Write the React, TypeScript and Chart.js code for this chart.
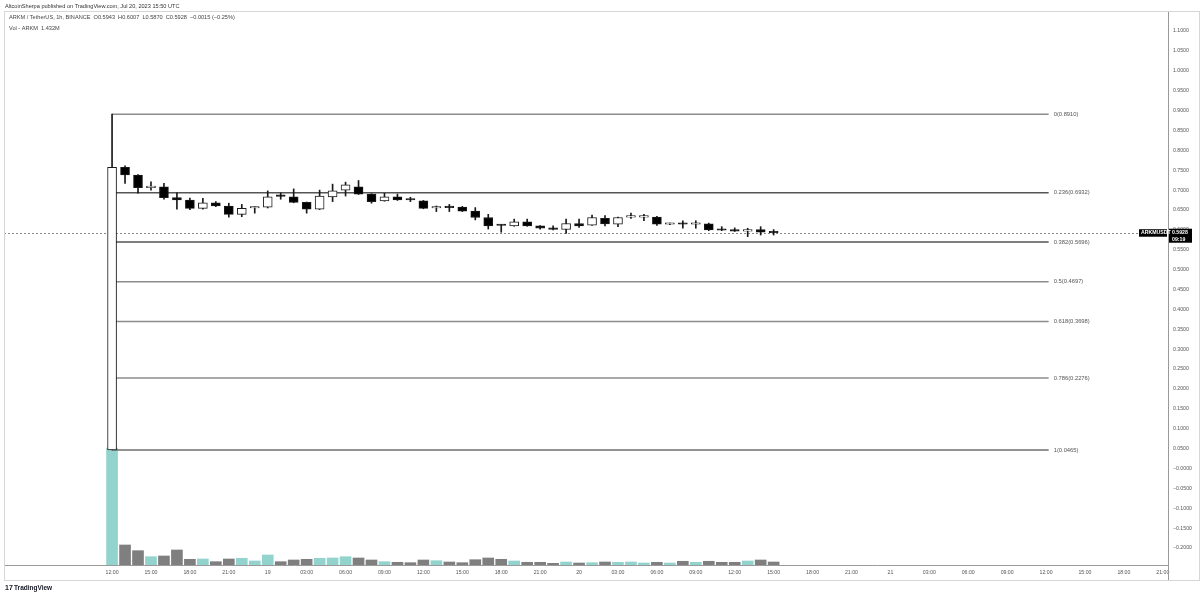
import React, { useEffect, useRef } from 'react';
import { Chart, registerables } from 'chart.js';

Chart.register(...registerables);

// Hourly candles, ARKM/USDT from Jul 18 12:00 (hour 0) to Jul 20 15:00
const opens = [0.0465, 0.757, 0.738, 0.706, 0.708, 0.681, 0.675, 0.654, 0.668, 0.660, 0.639, 0.655, 0.657, 0.685, 0.683, 0.669, 0.652, 0.683, 0.700, 0.708, 0.690, 0.673, 0.683, 0.676, 0.673, 0.655, 0.657, 0.657, 0.647, 0.631, 0.612, 0.610, 0.620, 0.610, 0.605, 0.601, 0.616, 0.612, 0.629, 0.614, 0.632, 0.632, 0.632, 0.614, 0.615, 0.614, 0.615, 0.600, 0.599, 0.597, 0.601, 0.5943];
const highs = [0.891, 0.761, 0.739, 0.721, 0.717, 0.693, 0.680, 0.679, 0.671, 0.667, 0.664, 0.658, 0.698, 0.693, 0.703, 0.670, 0.700, 0.715, 0.720, 0.724, 0.691, 0.692, 0.690, 0.682, 0.674, 0.660, 0.664, 0.659, 0.656, 0.639, 0.613, 0.627, 0.627, 0.611, 0.610, 0.627, 0.627, 0.637, 0.636, 0.632, 0.642, 0.639, 0.634, 0.617, 0.623, 0.623, 0.617, 0.608, 0.605, 0.604, 0.608, 0.6007];
const lows = [0.0465, 0.717, 0.692, 0.700, 0.677, 0.652, 0.651, 0.652, 0.658, 0.632, 0.633, 0.642, 0.655, 0.677, 0.668, 0.642, 0.651, 0.671, 0.685, 0.689, 0.667, 0.672, 0.674, 0.671, 0.653, 0.646, 0.646, 0.646, 0.625, 0.602, 0.594, 0.609, 0.609, 0.602, 0.600, 0.591, 0.606, 0.611, 0.610, 0.608, 0.629, 0.623, 0.611, 0.613, 0.604, 0.604, 0.598, 0.598, 0.596, 0.583, 0.587, 0.5870];
const closes = [0.757, 0.738, 0.706, 0.708, 0.681, 0.675, 0.654, 0.668, 0.660, 0.639, 0.654, 0.657, 0.683, 0.684, 0.669, 0.652, 0.685, 0.698, 0.713, 0.690, 0.671, 0.683, 0.675, 0.675, 0.654, 0.656, 0.656, 0.647, 0.631, 0.610, 0.611, 0.620, 0.610, 0.604, 0.601, 0.616, 0.610, 0.631, 0.615, 0.631, 0.633, 0.633, 0.614, 0.615, 0.614, 0.615, 0.600, 0.599, 0.597, 0.598, 0.594, 0.5928];
// Volume in millions of ARKM
const volumes = [55.8, 9.55, 6.83, 3.96, 4.30, 7.16, 2.72, 2.86, 1.58, 2.86, 3.20, 1.91, 4.77, 1.58, 2.39, 2.72, 3.20, 3.34, 3.96, 3.34, 2.39, 1.58, 1.29, 1.10, 2.39, 2.05, 1.43, 1.10, 2.53, 3.34, 2.72, 1.91, 1.29, 1.29, 0.81, 1.43, 0.95, 1.10, 1.43, 1.29, 1.43, 0.95, 1.29, 0.95, 1.77, 1.29, 1.77, 1.29, 1.29, 1.91, 2.39, 1.432];

const xTickHours = [0, 3, 6, 9, 12, 15, 18, 21, 24, 27, 30, 33, 36, 39, 42, 45, 48, 51, 54, 57, 60, 63, 66, 69, 72, 75, 78, 81];
const xTickLabels = ['12:00', '15:00', '18:00', '21:00', '19', '03:00', '06:00', '09:00', '12:00', '15:00', '18:00', '21:00', '20', '03:00', '06:00', '09:00', '12:00', '15:00', '18:00', '21:00', '21', '03:00', '06:00', '09:00', '12:00', '15:00', '18:00', '21:00'];
const yTicks = [-0.2, -0.15, -0.1, -0.05, 0, 0.05, 0.1, 0.15, 0.2, 0.25, 0.3, 0.35, 0.4, 0.45, 0.5, 0.55, 0.6, 0.65, 0.7, 0.75, 0.8, 0.85, 0.9, 0.95, 1.0, 1.05, 1.1];

const fibLevels = ['0', '0.236', '0.382', '0.5', '0.618', '0.786', '1'];
const fibPrices = [0.891, 0.6932, 0.5696, 0.4697, 0.3698, 0.2276, 0.0465];
const fibColors = ['#8c8c8c', '#555555', '#555555', '#8c8c8c', '#8c8c8c', '#8c8c8c', '#6e6e6e'];
const fibStartHour = 0;
const fibEndHour = 72.2;

const xMin = -8.33;
const xMax = 81.4;
const yMin = -0.2427;
const yMax = 1.1478;

const FONT = '"Liberation Sans", Arial, sans-serif';

export default function App() {
  const ref = useRef<HTMLCanvasElement | null>(null);

  useEffect(() => {
    document.body.style.margin = '0';
    const canvas = ref.current;
    if (!canvas) return;
    Chart.defaults.font.family = FONT;

    const hours = opens.map((_, i) => i);
    const bodies = hours.map((h, i) => ({ x: h, y: [opens[i], closes[i]] }));
    const wicks = hours.map((h, i) => ({ x: h, y: [lows[i], highs[i]] }));
    const vols = hours.map((h, i) => ({ x: h, y: volumes[i] }));
    const up = hours.map((_, i) => closes[i] >= opens[i]);
    const lastClose = closes[closes.length - 1];

    const fibDatasets = fibPrices.map((p, i) => ({
      type: 'line' as const,
      data: [{ x: fibStartHour, y: p }, { x: fibEndHour, y: p }],
      borderColor: fibColors[i],
      borderWidth: 1.5,
      pointRadius: 0,
      yAxisID: 'y',
    }));

    const overlay = {
      id: 'overlay',
      beforeDatasetsDraw(chart: any) {
        const { ctx, chartArea, scales } = chart;
        const y = Math.round(scales.y.getPixelForValue(lastClose)) + 0.5;
        ctx.save();
        ctx.strokeStyle = '#8a8a8a';
        ctx.lineWidth = 1;
        ctx.setLineDash([2, 2]);
        ctx.beginPath();
        ctx.moveTo(chartArea.left, y);
        ctx.lineTo(chartArea.right, y);
        ctx.stroke();
        ctx.restore();
      },
      afterDraw(chart: any) {
        const { ctx, chartArea, scales } = chart;
        ctx.save();
        // frame
        ctx.strokeStyle = '#d6d6d6';
        ctx.lineWidth = 1;
        ctx.strokeRect(4.5, 11.5, 1195, 569);
        ctx.strokeStyle = '#9a9a9a';
        ctx.beginPath();
        ctx.moveTo(chartArea.right + 0.5, chartArea.bottom);
        ctx.lineTo(chartArea.right + 0.5, 580);
        ctx.stroke();

        // header
        ctx.fillStyle = '#333';
        ctx.textBaseline = 'middle';
        ctx.textAlign = 'left';
        ctx.font = `5.6px ${FONT}`;
        ctx.fillText('AltcoinSherpa published on TradingView.com, Jul 20, 2023 15:50 UTC', 5, 6);
        ctx.fillStyle = '#444';
        ctx.fillText('ARKM / TetherUS, 1h, BINANCE  O0.5943  H0.6007  L0.5870  C0.5928  \u22120.0015 (\u22120.25%)', 9, 17);
        ctx.fillText('Vol - ARKM  1.432M', 9, 28);

        // fib labels
        ctx.font = `5.8px ${FONT}`;
        ctx.fillStyle = '#555';
        const lx = scales.x.getPixelForValue(fibEndHour) + 5;
        fibPrices.forEach((p, i) => {
          const y = scales.y.getPixelForValue(p);
          ctx.fillText(`${fibLevels[i]}(${p.toFixed(4)})`, lx, y);
        });

        // last price labels
        const py = scales.y.getPixelForValue(lastClose);
        ctx.fillStyle = '#000';
        ctx.fillRect(chartArea.right + 1, py - 4, 23, 14);
        ctx.fillRect(chartArea.right - 29, py - 3.5, 28, 7.5);
        ctx.fillStyle = '#fff';
        ctx.font = `bold 5.2px ${FONT}`;
        ctx.fillText(lastClose.toFixed(4), chartArea.right + 4, py);
        ctx.fillText('09:19', chartArea.right + 4, py + 6.5);
        ctx.fillText('ARKMUSDT', chartArea.right - 27, py + 0.3);

        // footer logo
        ctx.fillStyle = '#131722';
        ctx.font = `bold 7px ${FONT}`;
        ctx.fillText('17', 5, 588);
        ctx.font = `bold 6.5px ${FONT}`;
        ctx.fillText('TradingView', 14, 588);
        ctx.restore();
      },
    };

    const chart = new Chart(canvas, {
      type: 'bar',
      data: {
        datasets: [
          {
            type: 'bar',
            data: bodies as any,
            backgroundColor: up.map((u) => (u ? '#ffffff' : '#000000')),
            borderColor: '#1a1a1a',
            borderWidth: 1,
            borderSkipped: false,
            barThickness: 9,
            minBarLength: 1.5,
            grouped: false,
            yAxisID: 'y',
          },
          {
            type: 'bar',
            data: wicks as any,
            backgroundColor: '#1a1a1a',
            borderWidth: 0,
            barThickness: 1,
            minBarLength: 1,
            grouped: false,
            yAxisID: 'y',
          },
          ...(fibDatasets as any),
          {
            type: 'bar',
            data: vols as any,
            backgroundColor: up.map((u) => (u ? '#93d3cd' : '#7f7f7f')),
            borderWidth: 0,
            barThickness: 11,
            grouped: false,
            yAxisID: 'yVol',
          },
        ],
      },
      options: {
        responsive: false,
        maintainAspectRatio: false,
        devicePixelRatio: 1,
        animation: false,
        layout: { padding: { top: 12, left: 4, right: 0, bottom: 0 } },
        plugins: { legend: { display: false }, tooltip: { enabled: false } },
        scales: {
          x: {
            type: 'linear',
            min: xMin,
            max: xMax,
            offset: false,
            position: 'bottom',
            grid: { display: false, drawTicks: false },
            border: { display: true, color: '#9a9a9a', width: 1 },
            afterBuildTicks: (scale: any) => {
              scale.ticks = xTickHours.map((v) => ({ value: v }));
            },
            afterFit: (scale: any) => {
              scale.height = 30;
            },
            ticks: {
              autoSkip: false,
              maxRotation: 0,
              padding: 4,
              color: '#555',
              font: { size: 5.2 },
              callback: (_v: any, i: number) => xTickLabels[i],
            },
          },
          y: {
            type: 'linear',
            position: 'right',
            min: yMin,
            max: yMax,
            grid: { display: false, drawTicks: false },
            border: { display: true, color: '#9a9a9a', width: 1 },
            afterBuildTicks: (scale: any) => {
              scale.ticks = yTicks.map((v) => ({ value: v }));
            },
            afterFit: (scale: any) => {
              scale.width = 32;
            },
            ticks: {
              padding: 5,
              color: '#555',
              font: { size: 5.2 },
              callback: (v: any) => {
                const n = Number(v);
                if (Math.abs(n) < 1e-9) return '\u22120.0000';
                return n < 0 ? '\u2212' + Math.abs(n).toFixed(4) : n.toFixed(4);
              },
            },
          },
          yVol: {
            type: 'linear',
            display: false,
            min: 0,
            max: 55.8 * 4.726,
          },
        },
      } as any,
      plugins: [overlay],
    });

    return () => chart.destroy();
  }, []);

  return (
    <div style={{ position: 'fixed', left: 0, top: 0, width: 1200, height: 595, background: '#fff' }}>
      <canvas ref={ref} width={1200} height={595} style={{ width: 1200, height: 595, display: 'block' }} />
    </div>
  );
}
